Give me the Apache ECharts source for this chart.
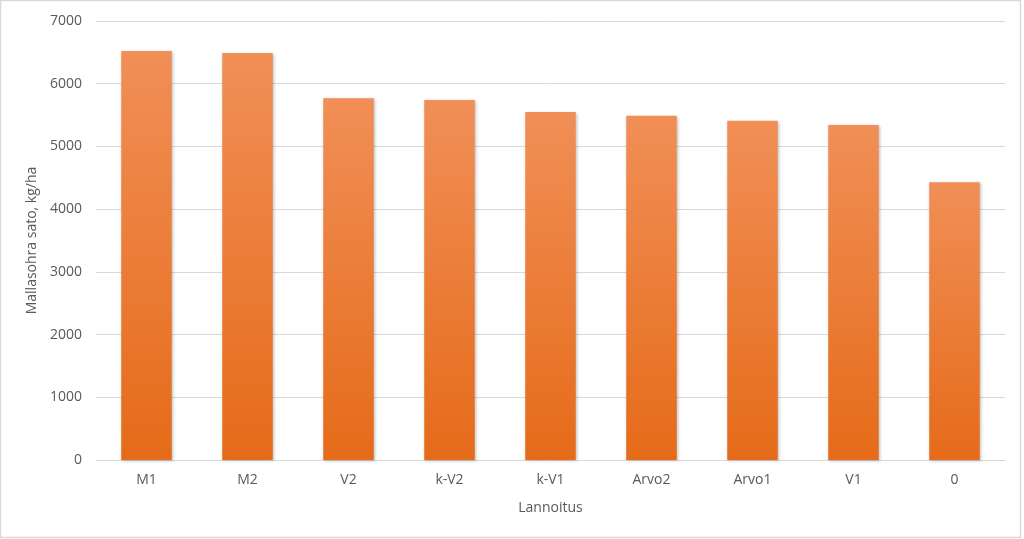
<!DOCTYPE html>
<html><head><meta charset="utf-8">
<script src="https://cdn.jsdelivr.net/npm/echarts@6/dist/echarts.min.js"></script>
<style>html,body{margin:0;padding:0;background:#fff;}#c{width:1024px;height:539px;}</style>
</head><body><div id="c"></div>
<script>
const categories = ['M1','M2','V2','k-V2','k-V1','Arvo2','Arvo1','V1','0'];
const values = [6520, 6490, 5770, 5740, 5550, 5490, 5410, 5340, 4430];
const yTicks = [0, 7000, 1000];

const chart = echarts.init(document.getElementById('c'));
const txt = {color:'#595959', fontFamily:'Open Sans, Liberation Sans, sans-serif', fontSize:14};
chart.setOption({
  backgroundColor:'#fff',
  animation:false,
  graphic:[{type:'rect', shape:{x:0.5,y:0.5,width:1020,height:537}, style:{fill:'none', stroke:'#d9d9d9', lineWidth:1.5}, silent:true}],
  grid:{left:96, right:19, top:21, bottom:79},
  xAxis:{type:'category', data:categories, name:'Lannoitus', nameLocation:'middle', nameGap:41,
    nameTextStyle:Object.assign({}, txt),
    axisLine:{lineStyle:{color:'#d9d9d9'}}, axisTick:{show:false},
    axisLabel:Object.assign({margin:13}, txt)},
  yAxis:{type:'value', min:yTicks[0], max:yTicks[1], interval:yTicks[2],
    name:'Mallasohra sato, kg/ha', nameLocation:'middle', nameGap:52,
    nameTextStyle:Object.assign({}, txt),
    axisLine:{show:false}, axisTick:{show:false},
    axisLabel:Object.assign({margin:14, formatter:function(v){return String(v);}}, txt),
    splitLine:{lineStyle:{color:'#d9d9d9'}}},
  series:[{type:'bar', data:values, barWidth:'50%',
    itemStyle:{color:new echarts.graphic.LinearGradient(0,0,0,1,[{offset:0,color:'#F18F57'},{offset:1,color:'#E56B19'}]),
      shadowColor:'rgba(0,0,0,0.25)', shadowBlur:3, shadowOffsetX:1, shadowOffsetY:1}}]
});
</script></body></html>
